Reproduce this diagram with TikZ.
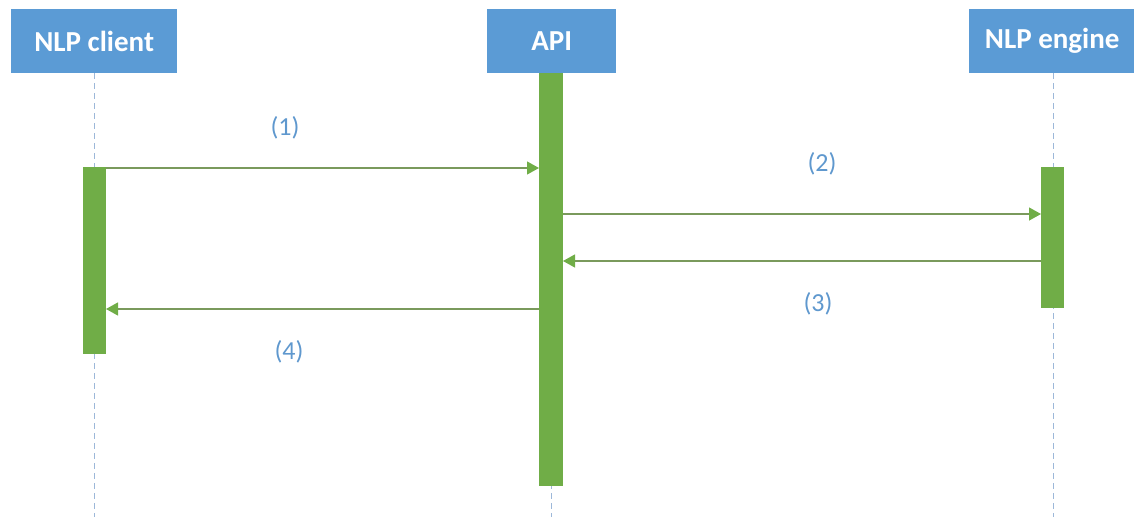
\documentclass[tikz,border=0pt]{standalone}
\usepackage{fontspec}
\setmainfont{Carlito}
\usetikzlibrary{arrows.meta}
\definecolor{hdrblue}{HTML}{5B9BD5}
\definecolor{actgreen}{HTML}{70AD47}
\definecolor{msgline}{HTML}{7A9A5C}
\definecolor{lifeblue}{HTML}{9DB8D9}
\definecolor{lblblue}{HTML}{5F98CE}
\tikzset{
  x=1pt, y=-1pt,
  header/.style={fill=hdrblue, draw=none, text=white, font=\fontsize{29}{32}\selectfont\bfseries, minimum height=64pt, inner sep=0pt, anchor=north west},
  lifeline/.style={draw=lifeblue, line width=0.8pt, dash pattern=on 6pt off 4pt},
  actbar/.style={fill=actgreen, draw=none},
  msg/.style={draw=msgline, line width=1.2pt, -{Triangle[length=12pt, width=13pt, color=actgreen, fill=actgreen]}},
  lbl/.style={text=lblblue, font=\fontsize{26}{30}\selectfont},
}
\begin{document}
\begin{tikzpicture}
\useasboundingbox (0,0) rectangle (1134,517);
% headers
\node[header, minimum width=166pt] (hc) at (11,9) {NLP client};
\node[header, minimum width=129pt] (ha) at (487,9) {API};
\node[header, minimum width=166pt] (he) at (969,9) {NLP engine};
% lifeline end coordinates
\coordinate (lc) at (94,517);
\coordinate (la) at (551,517);
\coordinate (le) at (1053,517);
\draw[lifeline] (hc.south -| lc) -- (lc);
\draw[lifeline] (ha.south -| la) -- (la);
\draw[lifeline] (he.south -| le) -- (le);
% activation bars
\path[actbar] (83,167) rectangle (106,354);
\path[actbar] (539,73) rectangle (563,486);
\path[actbar] (1041,167) rectangle (1064,308);
\coordinate (c1) at (106,168);
\coordinate (a1) at (539,168);
\coordinate (a2) at (563,214);
\coordinate (e2) at (1041,214);
\coordinate (e3) at (1041,261);
\coordinate (a3) at (563,261);
\coordinate (a4) at (539,309);
\coordinate (c4) at (106,309);
\draw[msg] (c1) -- (a1);
\draw[msg] (a2) -- (e2);
\draw[msg] (e3) -- (a3);
\draw[msg] (a4) -- (c4);
\node[lbl] (l1) at (285,128) {(1)};
\node[lbl] (l2) at (822,164) {(2)};
\node[lbl] (l3) at (818,304) {(3)};
\node[lbl] (l4) at (289,352) {(4)};
\end{tikzpicture}
\end{document}
